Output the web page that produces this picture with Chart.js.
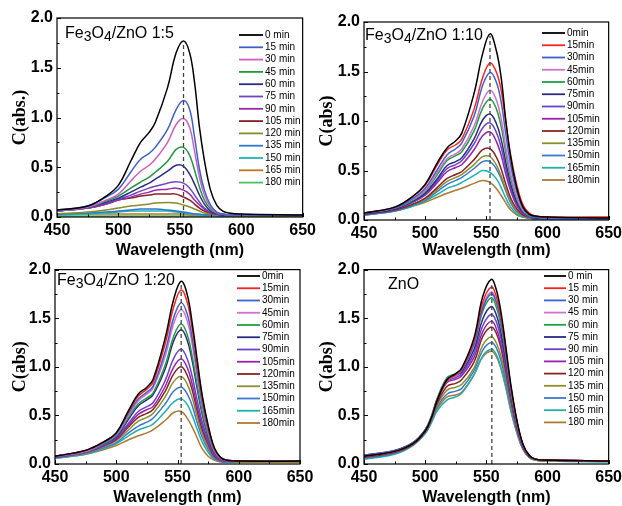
<!DOCTYPE html>
<html>
<head>
<meta charset="utf-8">
<script src="https://cdn.jsdelivr.net/npm/chart.js@4.4.0/dist/chart.umd.min.js"></script>
<style>
body { margin: 0; background: #fff; width: 622px; height: 506px; overflow: hidden; position: relative; }
canvas { position: absolute; }
</style>
</head>
<body>
<canvas id="c1" width="320" height="262" style="left:0px;top:0px"></canvas>
<canvas id="c2" width="315" height="262" style="left:311px;top:0px"></canvas>
<canvas id="c3" width="320" height="252" style="left:0px;top:256px"></canvas>
<canvas id="c4" width="315" height="252" style="left:311px;top:256px"></canvas>
<script>
// time points of the degradation series (min)
const times = [0, 15, 30, 45, 60, 75, 90, 105, 120, 135, 150, 165, 180];
const xTicks = [450, 500, 550, 600, 650];
const yTicks = [0.0, 0.5, 1.0, 1.5, 2.0];

// wavelengths (nm) the curves are sampled at
const wl = [450, 475, 490, 500, 510, 518, 525, 530, 540, 547, 553, 558, 562, 566, 570, 575, 580, 585, 590, 600, 650];
const wlZnO = [450, 475, 490, 500, 505, 510, 518, 525, 530, 540, 547, 554, 558, 562, 566, 570, 575, 580, 585, 590, 600, 650];

// Fe3O4/ZnO 1:5
const p1 = [
  [0.07,0.11,0.21,0.32,0.56,0.75,0.85,0.95,1.30,1.65,1.77,1.65,1.35,0.90,0.57,0.27,0.12,0.06,0.04,0.03,0.02],
  [0.07,0.11,0.20,0.28,0.45,0.58,0.64,0.70,0.88,1.08,1.17,1.08,0.80,0.48,0.27,0.12,0.05,0.03,0.02,0.02,0.02],
  [0.06,0.10,0.17,0.23,0.36,0.46,0.52,0.58,0.75,0.93,0.99,0.90,0.66,0.40,0.22,0.10,0.04,0.03,0.02,0.02,0.02],
  [0.06,0.10,0.16,0.21,0.29,0.35,0.40,0.45,0.56,0.68,0.70,0.62,0.47,0.30,0.17,0.08,0.04,0.03,0.02,0.02,0.02],
  [0.06,0.10,0.15,0.19,0.25,0.30,0.34,0.38,0.46,0.52,0.51,0.43,0.33,0.22,0.13,0.06,0.03,0.02,0.02,0.02,0.02],
  [0.06,0.09,0.14,0.18,0.22,0.26,0.29,0.31,0.34,0.355,0.34,0.29,0.22,0.15,0.09,0.05,0.03,0.02,0.02,0.02,0.02],
  [0.06,0.09,0.13,0.17,0.20,0.23,0.25,0.27,0.28,0.29,0.27,0.23,0.17,0.12,0.08,0.04,0.03,0.02,0.02,0.02,0.02],
  [0.06,0.09,0.13,0.17,0.19,0.21,0.22,0.23,0.23,0.23,0.20,0.17,0.13,0.09,0.06,0.04,0.03,0.02,0.02,0.02,0.02],
  [0.03,0.05,0.07,0.09,0.11,0.12,0.13,0.14,0.145,0.14,0.12,0.10,0.08,0.06,0.04,0.03,0.02,0.02,0.01,0.01,0.01],
  [0.03,0.04,0.05,0.06,0.07,0.08,0.08,0.08,0.07,0.06,0.05,0.04,0.03,0.03,0.02,0.02,0.02,0.01,0.01,0.01,0.01],
  [0.02,0.03,0.04,0.05,0.06,0.06,0.06,0.06,0.06,0.05,0.04,0.03,0.03,0.02,0.02,0.02,0.01,0.01,0.01,0.01,0.01],
  [0.03,0.03,0.03,0.03,0.03,0.03,0.03,0.03,0.03,0.03,0.03,0.02,0.02,0.02,0.02,0.02,0.02,0.02,0.02,0.02,0.02],
  [0.01,0.01,0.01,0.01,0.01,0.01,0.01,0.01,0.01,0.01,0.01,0.01,0.01,0.01,0.01,0.01,0.01,0.01,0.01,0.01,0.01]
];

// Fe3O4/ZnO 1:10
const p2 = [
  [0.07,0.13,0.24,0.36,0.58,0.73,0.80,0.88,1.28,1.68,1.88,1.72,1.45,1.00,0.63,0.32,0.13,0.06,0.04,0.03,0.02],
  [0.07,0.13,0.24,0.35,0.56,0.71,0.76,0.82,1.12,1.44,1.585,1.50,1.32,0.98,0.65,0.35,0.15,0.07,0.04,0.03,0.03],
  [0.07,0.12,0.22,0.32,0.51,0.66,0.72,0.78,1.05,1.36,1.49,1.40,1.20,0.86,0.55,0.28,0.12,0.05,0.03,0.02,0.02],
  [0.07,0.12,0.21,0.30,0.48,0.62,0.67,0.72,0.95,1.20,1.31,1.22,1.03,0.73,0.46,0.23,0.10,0.05,0.03,0.02,0.02],
  [0.07,0.12,0.20,0.29,0.46,0.60,0.65,0.69,0.90,1.13,1.22,1.13,0.95,0.67,0.42,0.21,0.09,0.04,0.03,0.02,0.02],
  [0.06,0.11,0.19,0.27,0.42,0.55,0.59,0.63,0.82,1.01,1.07,0.98,0.82,0.58,0.36,0.18,0.08,0.04,0.02,0.02,0.02],
  [0.06,0.11,0.18,0.26,0.40,0.52,0.56,0.60,0.77,0.93,0.98,0.89,0.74,0.52,0.32,0.16,0.07,0.03,0.02,0.02,0.02],
  [0.06,0.11,0.18,0.25,0.38,0.49,0.53,0.56,0.71,0.85,0.89,0.80,0.66,0.46,0.29,0.14,0.06,0.03,0.02,0.02,0.02],
  [0.06,0.10,0.16,0.22,0.33,0.42,0.46,0.49,0.61,0.71,0.72,0.64,0.52,0.36,0.22,0.11,0.05,0.03,0.02,0.02,0.02],
  [0.06,0.10,0.16,0.21,0.31,0.39,0.43,0.46,0.56,0.64,0.64,0.56,0.45,0.31,0.19,0.09,0.04,0.02,0.02,0.02,0.02],
  [0.05,0.09,0.15,0.20,0.29,0.36,0.40,0.43,0.52,0.59,0.59,0.52,0.42,0.29,0.17,0.08,0.04,0.02,0.02,0.01,0.01],
  [0.05,0.09,0.14,0.19,0.26,0.32,0.35,0.38,0.45,0.50,0.48,0.42,0.33,0.22,0.13,0.06,0.03,0.02,0.01,0.01,0.01],
  [0.05,0.09,0.14,0.18,0.23,0.27,0.30,0.32,0.37,0.40,0.38,0.32,0.25,0.17,0.10,0.05,0.03,0.02,0.01,0.01,0.01]
];

// Fe3O4/ZnO 1:20
const p3 = [
  [0.08,0.14,0.23,0.32,0.55,0.72,0.79,0.87,1.30,1.70,1.88,1.74,1.45,1.08,0.72,0.40,0.17,0.07,0.04,0.03,0.03],
  [0.08,0.14,0.23,0.32,0.54,0.70,0.77,0.84,1.24,1.62,1.79,1.66,1.39,1.03,0.69,0.38,0.16,0.07,0.04,0.03,0.03],
  [0.08,0.14,0.22,0.31,0.52,0.67,0.74,0.80,1.16,1.51,1.66,1.54,1.29,0.96,0.64,0.35,0.15,0.07,0.04,0.03,0.03],
  [0.08,0.13,0.22,0.30,0.50,0.65,0.72,0.78,1.11,1.45,1.59,1.47,1.23,0.91,0.61,0.33,0.14,0.06,0.04,0.03,0.03],
  [0.08,0.13,0.21,0.29,0.48,0.62,0.68,0.73,1.02,1.32,1.44,1.33,1.11,0.82,0.55,0.30,0.13,0.06,0.04,0.03,0.03],
  [0.08,0.13,0.21,0.28,0.46,0.60,0.66,0.71,0.98,1.27,1.38,1.27,1.06,0.78,0.52,0.28,0.12,0.06,0.04,0.03,0.03],
  [0.07,0.12,0.20,0.27,0.42,0.54,0.59,0.63,0.86,1.09,1.18,1.08,0.90,0.66,0.44,0.24,0.10,0.05,0.03,0.03,0.03],
  [0.07,0.12,0.19,0.26,0.40,0.51,0.56,0.59,0.80,1.00,1.08,0.99,0.82,0.60,0.40,0.22,0.09,0.04,0.03,0.03,0.03],
  [0.07,0.12,0.19,0.25,0.38,0.48,0.52,0.56,0.75,0.93,1.00,0.91,0.76,0.55,0.36,0.20,0.08,0.04,0.03,0.03,0.03],
  [0.07,0.11,0.18,0.24,0.35,0.44,0.48,0.52,0.69,0.85,0.90,0.82,0.68,0.49,0.32,0.17,0.07,0.04,0.03,0.02,0.02],
  [0.07,0.11,0.17,0.22,0.32,0.39,0.43,0.47,0.62,0.75,0.79,0.72,0.60,0.43,0.28,0.15,0.06,0.03,0.02,0.02,0.02],
  [0.06,0.10,0.16,0.21,0.29,0.35,0.38,0.41,0.54,0.64,0.67,0.61,0.50,0.36,0.23,0.12,0.05,0.03,0.02,0.02,0.02],
  [0.06,0.10,0.15,0.19,0.25,0.29,0.32,0.35,0.45,0.53,0.54,0.47,0.38,0.27,0.16,0.08,0.04,0.02,0.02,0.02,0.02]
];

// ZnO
const p4 = [
  [0.08,0.13,0.21,0.34,0.47,0.66,0.87,0.93,0.99,1.30,1.72,1.90,1.80,1.56,1.20,0.82,0.45,0.20,0.09,0.05,0.04,0.03],
  [0.08,0.13,0.21,0.34,0.47,0.66,0.86,0.92,0.98,1.27,1.66,1.82,1.73,1.51,1.17,0.80,0.44,0.20,0.09,0.05,0.04,0.03],
  [0.09,0.14,0.22,0.35,0.48,0.67,0.87,0.92,0.97,1.24,1.60,1.75,1.67,1.46,1.13,0.78,0.43,0.19,0.09,0.05,0.04,0.03],
  [0.08,0.13,0.21,0.34,0.47,0.66,0.86,0.91,0.97,1.24,1.62,1.77,1.68,1.47,1.14,0.78,0.43,0.19,0.09,0.05,0.04,0.03],
  [0.08,0.13,0.21,0.35,0.49,0.68,0.89,0.93,0.98,1.23,1.57,1.71,1.62,1.42,1.10,0.76,0.42,0.19,0.09,0.05,0.04,0.03],
  [0.09,0.14,0.22,0.35,0.48,0.67,0.87,0.91,0.95,1.18,1.49,1.62,1.54,1.35,1.05,0.73,0.40,0.18,0.08,0.05,0.04,0.03],
  [0.08,0.13,0.21,0.34,0.47,0.66,0.85,0.89,0.93,1.14,1.42,1.54,1.47,1.29,1.01,0.70,0.39,0.18,0.08,0.05,0.04,0.03],
  [0.08,0.13,0.21,0.34,0.47,0.65,0.84,0.87,0.91,1.10,1.36,1.47,1.40,1.23,0.97,0.68,0.38,0.17,0.08,0.05,0.04,0.03],
  [0.07,0.12,0.20,0.33,0.46,0.63,0.80,0.83,0.87,1.05,1.31,1.41,1.35,1.19,0.94,0.66,0.37,0.17,0.08,0.05,0.04,0.03],
  [0.07,0.12,0.20,0.33,0.45,0.61,0.76,0.79,0.82,0.99,1.22,1.31,1.25,1.11,0.88,0.62,0.35,0.16,0.07,0.04,0.03,0.03],
  [0.06,0.11,0.20,0.32,0.44,0.59,0.72,0.75,0.78,0.96,1.17,1.25,1.20,1.06,0.84,0.59,0.34,0.16,0.07,0.04,0.03,0.03],
  [0.05,0.10,0.19,0.31,0.42,0.55,0.66,0.69,0.73,0.92,1.11,1.18,1.13,0.99,0.79,0.56,0.32,0.15,0.07,0.04,0.03,0.02],
  [0.06,0.11,0.20,0.32,0.43,0.57,0.69,0.71,0.74,0.92,1.10,1.16,1.11,0.98,0.78,0.55,0.32,0.15,0.07,0.04,0.03,0.03]
];

// dashed marker line: [wavelength, top]
const ref1 = [553, 1.77];
const ref2 = [553, 1.86];
const ref3 = [553, 1.85];
const ref4 = [554.5, 1.84];

const colors1 = ['#000000','#3f5fcf','#cc5fc0','#1f9a3f','#2b2b87','#6e46c0','#9a2aa8','#8b1f24','#8a8a2a','#2a78d0','#1fb5b5','#c0761f','#4cc060'];
const colors2 = ['#000000','#ff2020','#4060cc','#d070d0','#20a040','#2a2a80','#6a44c8','#9a20b0','#8a2222','#8a9030','#3a78d0','#20b0b0','#b07830'];

const SANS = 'Liberation Sans, Arial, sans-serif';

const panelPlugin = {
  id: 'panel',
  afterDraw(chart, args, opts) {
    const ctx = chart.ctx;
    const a = chart.chartArea;
    const xs = chart.scales.x, ys = chart.scales.y;
    ctx.save();
    // inward ticks
    ctx.strokeStyle = '#000';
    ctx.lineWidth = 1;
    ctx.beginPath();
    for (let v = 450; v <= 650; v += 25) {
      const px = Math.round(xs.getPixelForValue(v)) + 0.5;
      const len = v % 50 === 0 ? 4 : 2.5;
      ctx.moveTo(px, a.bottom); ctx.lineTo(px, a.bottom - len);
    }
    for (let v = 0; v <= 2; v += 0.25) {
      const py = Math.round(ys.getPixelForValue(v)) + 0.5;
      const len = (v * 2) % 1 === 0 ? 4 : 2.5;
      ctx.moveTo(a.left, py); ctx.lineTo(a.left + len, py);
    }
    ctx.stroke();
    // frame
    ctx.lineWidth = 1.2;
    ctx.strokeRect(a.left, a.top, a.right - a.left, a.bottom - a.top);

    // panel label with subscripts
    let x = opts.labelX;
    ctx.fillStyle = '#000';
    ctx.textBaseline = 'alphabetic';
    ctx.textAlign = 'left';
    opts.label.forEach(part => {
      ctx.font = part[1] ? '14px ' + SANS : '16px ' + SANS;
      ctx.fillText(part[0], x, opts.labelY + (part[1] ? 3 : 0));
      x += ctx.measureText(part[0]).width;
    });

    // legend
    ctx.font = '10px ' + SANS;
    ctx.textBaseline = 'middle';
    let row = 0;
    chart.data.datasets.forEach(ds => {
      if (ds.isRef) return;
      const y = opts.legY + row * opts.legStep;
      ctx.strokeStyle = ds.borderColor;
      ctx.lineWidth = 1.8;
      ctx.beginPath();
      ctx.moveTo(opts.legX, y); ctx.lineTo(opts.legX + opts.legLen, y);
      ctx.stroke();
      ctx.fillStyle = '#000';
      ctx.fillText(ds.label, opts.legX + opts.legLen + 2, y);
      row++;
    });
    ctx.restore();
  }
};

function makePanel(id, xs, series, colors, unit, ref, cfg) {
  const datasets = series.map((vals, i) => ({
    label: times[i] + unit,
    data: vals.map((v, j) => ({ x: xs[j], y: v })),
    borderColor: colors[i],
    borderWidth: 1.5,
    pointRadius: 0,
    tension: 0.4
  }));
  datasets.unshift({
    label: '',
    isRef: true,
    data: [{ x: ref[0], y: 0 }, { x: ref[0], y: ref[1] }],
    borderColor: '#444',
    borderWidth: 1.3,
    borderDash: [4, 3],
    pointRadius: 0
  });

  new Chart(document.getElementById(id), {
    type: 'line',
    data: { datasets },
    options: {
      responsive: false,
      animation: false,
      layout: { padding: { top: cfg.padTop, right: cfg.padRight, left: 0, bottom: 0 } },
      plugins: {
        legend: { display: false },
        tooltip: { enabled: false },
        panel: cfg.panel
      },
      scales: {
        x: {
          type: 'linear',
          min: 450, max: 650,
          afterBuildTicks: s => { s.ticks = xTicks.map(v => ({ value: v })); },
          afterFit: s => { s.height = cfg.xHeight; },
          grid: { display: false, drawTicks: false },
          border: { display: false },
          ticks: { color: '#000', padding: 4, maxRotation: 0, font: { family: SANS, size: 16, weight: 'bold' } },
          title: { display: true, text: 'Wavelength (nm)', color: '#000', padding: { top: 0, bottom: cfg.xTitlePad },
                   font: { family: SANS, size: 16, weight: 'bold' } }
        },
        y: {
          min: 0, max: 2,
          afterBuildTicks: s => { s.ticks = yTicks.map(v => ({ value: v })); },
          afterFit: s => { s.width = cfg.yWidth; },
          grid: { display: false, drawTicks: false },
          border: { display: false },
          ticks: { color: '#000', padding: 4, callback: v => v.toFixed(1), font: { family: SANS, size: 16, weight: 'bold' } },
          title: { display: true, text: cfg.yTitle, color: '#000', padding: { top: cfg.yTitlePad, bottom: 0 },
                   font: { family: 'Liberation Serif, Times New Roman, serif', size: 18, weight: 'bold' } }
        }
      }
    },
    plugins: [panelPlugin]
  });
}

makePanel('c1', wl, p1, colors1, ' min', ref1, {
  padTop: 18, padRight: 17, yWidth: 57, xHeight: 45, xTitlePad: 1.4, yTitlePad: 10, yTitle: 'C(abs.)',
  panel: { label: [['Fe', 0], ['3', 1], ['O', 0], ['4', 1], ['/ZnO 1:5', 0]], labelX: 65, labelY: 37.5,
           legX: 239, legY: 35, legStep: 12.3, legLen: 24 }
});
makePanel('c2', wl, p2, colors2, 'min', ref2, {
  padTop: 22, padRight: 17, yWidth: 53, xHeight: 42, xTitlePad: 1.4, yTitlePad: 6, yTitle: 'C(abs)',
  panel: { label: [['Fe', 0], ['3', 1], ['O', 0], ['4', 1], ['/ZnO 1:10', 0]], labelX: 54, labelY: 39.5,
           legX: 231, legY: 33, legStep: 12.25, legLen: 23 }
});
makePanel('c3', wl, p3, colors2, 'min', ref3, {
  padTop: 10, padRight: 20, yWidth: 55, xHeight: 44, xTitlePad: 0.4, yTitlePad: 10, yTitle: 'C(abs)',
  panel: { label: [['Fe', 0], ['3', 1], ['O', 0], ['4', 1], ['/ZnO 1:20', 0]], labelX: 57, labelY: 29,
           legX: 237, legY: 20, legStep: 12.25, legLen: 23 }
});
makePanel('c4', wlZnO, p4, colors2, ' min', ref4, {
  padTop: 10, padRight: 17, yWidth: 53, xHeight: 44, xTitlePad: 0.4, yTitlePad: 6, yTitle: 'C(abs)',
  panel: { label: [['ZnO', 0]], labelX: 77, labelY: 33,
           legX: 233, legY: 20, legStep: 12.2, legLen: 22 }
});
</script>
</body>
</html>
